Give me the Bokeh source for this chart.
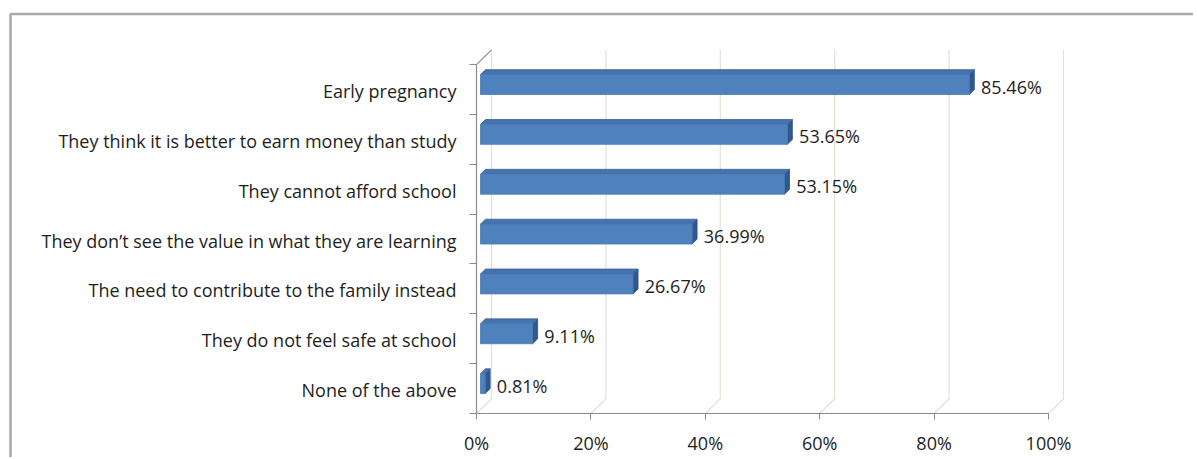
from bokeh.plotting import figure
from bokeh.models import Range1d, FixedTicker, PrintfTickFormatter, ColumnDataSource
from bokeh.embed import file_html
from bokeh.resources import INLINE
from bokeh.core.properties import value

# ---------------- data ----------------
categories = [
    "Early pregnancy",
    "They think it is better to earn money than study",
    "They cannot afford school",
    "They don\u2019t see the value in what they are learning",
    "The need to contribute to the family instead",
    "They do not feel safe at school",
    "None of the above",
]
values = [85.46, 53.65, 53.15, 36.99, 26.67, 9.11, 0.81]
x_ticks = [0, 20, 40, 60, 80, 100]

# ---------------- layout constants ----------------
W, H = 1193, 457
PX_X = 5.72    # pixels per percent
PX_Y = 50.64   # pixels per category
LEFT, RIGHT, TOP, BOTTOM = 476, 73, 38, 38
FONT = "Open Sans"
FS = "18px"
TXT = "#1e1e1e"
AXIS = "#8a8a8a"
GRID = "#e3e0d6"

n = len(categories)
pos = [n - 1 - k for k in range(n)]          # top category -> highest position
x_end = (W - LEFT - RIGHT) / PX_X
y_end = (H - TOP - BOTTOM) / PX_Y

BX, BY = 15 / PX_X, 15 / PX_Y                # back-wall depth offset
X0 = 4 / PX_X                                 # bar front face starts a bit behind axis
DX, DY = 5 / PX_X, 5 / PX_Y                   # bar depth
B_LO, B_HI = 0.40, 0.80                       # bar front face vertical extent in a slot

p = figure(width=W, height=H, output_backend="svg", toolbar_location=None,
           x_range=Range1d(0, x_end), y_range=Range1d(0, y_end),
           min_border_left=LEFT, min_border_right=RIGHT,
           min_border_top=TOP, min_border_bottom=BOTTOM)
p.outline_line_color = None
p.xgrid.visible = False
p.ygrid.visible = False
p.background_fill_color = "white"
p.border_fill_color = "white"

# outer chart border (top and left edges visible in the window)
bx_left = (10 - LEFT) / PX_X
by_top = (H - BOTTOM - 13) / PX_Y
p.line(x=[bx_left, bx_left, 400], y=[-5, by_top, by_top],
       line_color="#a9a9a9", line_width=2.5, level="overlay")

# back wall / floor gridlines
gx = [[t, t + BX, t + BX] for t in x_ticks]
gy = [[0, BY, n + BY] for t in x_ticks]
p.multi_line(xs=gx, ys=gy, line_color=GRID, line_width=1.2)

# top diagonal of the side wall
p.line(x=[0, BX], y=[n, n + BY], line_color=AXIS, line_width=1.2)

# ---------------- 3D bars ----------------
left = [X0] * n
right = [v + X0 for v in values]
bottom = [q + B_LO for q in pos]
top = [q + B_HI for q in pos]

top_xs = [[X0, X0 + DX, r + DX, r] for r in right]
top_ys = [[t, t + DY, t + DY, t] for t in top]
side_xs = [[r, r, r + DX, r + DX] for r in right]
side_ys = [[b, t, t + DY, b + DY] for b, t in zip(bottom, top)]

p.patches(xs=side_xs, ys=side_ys, fill_color="#30588c", line_color="#2c5283", line_width=0.8)
p.patches(xs=top_xs, ys=top_ys, fill_color="#4673ad", line_color="#3a6299", line_width=0.8)
p.quad(left=left, right=right, bottom=bottom, top=top,
       fill_color="#4f81bd", line_color="#4a7ab4", line_width=0.8)

# data labels
lab_src = ColumnDataSource(dict(
    x=[v + 2.75 for v in values],
    y=[q + 0.56 for q in pos],
    t=["%.2f%%" % v for v in values],
))
p.text(x="x", y="y", text="t", source=lab_src, text_font=value(FONT),
       text_font_size=FS, text_color=TXT, text_align="left", text_baseline="middle")

# ---------------- axes ----------------
xa = p.xaxis[0]
xa.ticker = FixedTicker(ticks=x_ticks)
xa.formatter = PrintfTickFormatter(format="%d%%")
xa.bounds = (0, 100)
xa.axis_line_color = AXIS
xa.axis_line_width = 1.2
xa.major_tick_line_color = AXIS
xa.major_tick_out = 6
xa.major_tick_in = 0
xa.minor_tick_line_color = None
xa.major_label_standoff = 11
xa.major_label_text_font = FONT
xa.major_label_text_font_size = FS
xa.major_label_text_color = TXT

ya = p.yaxis[0]
centers = [q + 0.47 for q in pos]
ya.ticker = FixedTicker(ticks=centers, minor_ticks=list(range(n + 1)))
ya.major_label_overrides = {c: lab for c, lab in zip(centers, categories)}
ya.bounds = (0, n)
ya.axis_line_color = AXIS
ya.axis_line_width = 1.2
ya.major_tick_line_color = None
ya.major_tick_out = 7
ya.major_tick_in = 0
ya.minor_tick_line_color = AXIS
ya.minor_tick_out = 7
ya.minor_tick_in = 0
ya.major_label_standoff = 13
ya.major_label_text_font = FONT
ya.major_label_text_font_size = FS
ya.major_label_text_color = TXT

open("out.html", "w").write(file_html(p, INLINE))
